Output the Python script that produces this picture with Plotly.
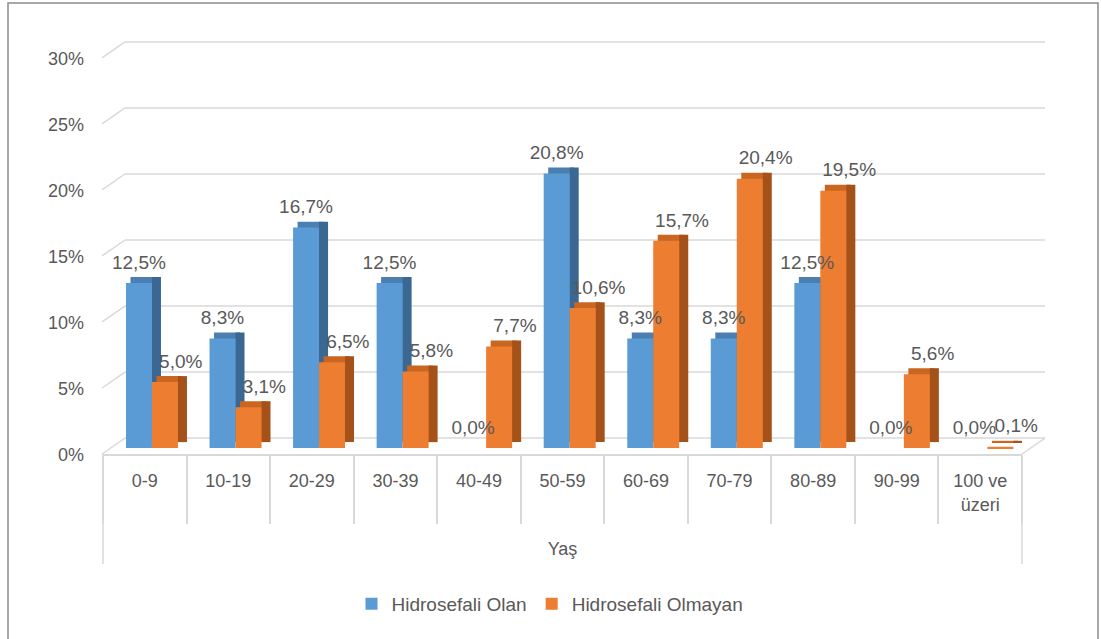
import plotly.graph_objects as go

# ---------------- data ----------------
categories = ["0-9", "10-19", "20-29", "30-39", "40-49", "50-59",
              "60-69", "70-79", "80-89", "90-99", "100 ve<br>üzeri"]
olan = [12.5, 8.3, 16.7, 12.5, 0.0, 20.8, 8.3, 8.3, 12.5, 0.0, 0.0]
olmayan = [5.0, 3.1, 6.5, 5.8, 7.7, 10.6, 15.7, 20.4, 19.5, 5.6, 0.1]
y_ticks = [0, 5, 10, 15, 20, 25, 30]
y_ticktext = ["0%", "5%", "10%", "15%", "20%", "25%", "30%"]
series_names = ["Hidrosefali Olan", "Hidrosefali Olmayan"]

# ---------------- layout geometry ----------------
W_FIG, H_FIG = 1101, 639
L, R, T, B = 103, 79, 40, 185
PW = W_FIG - L - R
PH = H_FIG - T - B
YMIN, YMAX = -0.45, 30.91

DEPTH = 0.45        # 3D depth in % units (vertical)
BACK = 0.76         # back wall offset in % units
LABEL_BASE = 0.55
FRONT_W = 0.311
SIDE_W = 0.108
SHIFT = 0.054
BLUE_OFF = -0.225
ORANGE_OFF = BLUE_OFF + FRONT_W
ORANGE_LABEL_SHIFT = 0.19

TXT = "#595959"
GRID = "#D9D9D9"
FONT = "Liberation Sans"


def pxx(x):
    return (x - L) / PW


def pyp(y):
    return (H_FIG - B - y) / PH


def pyv(v):
    return (v - YMIN) / (YMAX - YMIN)


fig = go.Figure()


def add_series(vals, off, c_front, c_top, c_side, name):
    common = dict(x=categories, y=vals, base=DEPTH, hoverinfo="skip",
                  showlegend=False, marker_line_width=0)
    fig.add_trace(go.Bar(**common, offset=off + SHIFT, width=FRONT_W,
                         marker_color=c_top))
    fig.add_trace(go.Bar(**common, offset=off + FRONT_W, width=SIDE_W,
                         marker_color=c_side))
    fig.add_trace(go.Bar(x=categories, y=vals, offset=off, width=FRONT_W,
                         marker_color=c_front, marker_line_width=0,
                         name=name, showlegend=True, hoverinfo="skip"))


add_series(olan, BLUE_OFF, "#5B9BD5", "#4B7FB2", "#3B6793", series_names[0])
add_series(olmayan, ORANGE_OFF, "#ED7D31", "#C9661F", "#A4511A", series_names[1])

# data labels (invisible bars carrying outside text)
for vals, off in [(olan, BLUE_OFF), (olmayan, ORANGE_OFF + ORANGE_LABEL_SHIFT)]:
    fig.add_trace(go.Bar(x=categories, y=vals, base=LABEL_BASE, offset=off,
                         width=FRONT_W, marker_color="rgba(0,0,0,0)",
                         marker_line_width=0,
                         texttemplate="%{y:.1f}%", textposition="outside",
                         constraintext="none", cliponaxis=False,
                         textfont=dict(size=19, color=TXT, family=FONT),
                         showlegend=False, hoverinfo="skip"))

shapes = []
# back wall gridlines + left wall slants
for v in y_ticks:
    shapes.append(dict(type="line", xref="paper", yref="paper",
                       x0=pxx(125), x1=pxx(1045), y0=pyv(v + BACK), y1=pyv(v + BACK),
                       line=dict(color=GRID, width=1.5), layer="below"))
    shapes.append(dict(type="line", xref="paper", yref="paper",
                       x0=pxx(102), x1=pxx(125), y0=pyv(v + YMIN), y1=pyv(v + BACK),
                       line=dict(color=GRID, width=1.5), layer="below"))
# right floor slant
shapes.append(dict(type="line", xref="paper", yref="paper",
                   x0=1, x1=pxx(1045), y0=0, y1=pyv(BACK),
                   line=dict(color=GRID, width=1.5), layer="below"))
# outer dividers of the category axis
for xp in (0, 1):
    shapes.append(dict(type="line", xref="paper", yref="paper",
                       x0=xp, x1=xp, y0=0, y1=pyp(564),
                       line=dict(color=GRID, width=1.5), layer="below"))
# chart border
shapes.append(dict(type="rect", xref="paper", yref="paper",
                   x0=pxx(8), x1=pxx(1098), y0=pyp(645), y1=pyp(3),
                   line=dict(color="#8C8C8C", width=1.5), layer="below"))

fig.update_layout(
    width=W_FIG, height=H_FIG,
    margin=dict(l=L, r=R, t=T, b=B, autoexpand=False),
    paper_bgcolor="white", plot_bgcolor="white",
    separators=",.",
    barmode="overlay",
    font=dict(family=FONT, size=18, color=TXT),
    shapes=shapes,
    legend=dict(orientation="h", x=pxx(550), xanchor="center",
                y=pyp(604), yanchor="middle",
                font=dict(size=19, color=TXT), itemwidth=30,
                traceorder="normal"),
    xaxis=dict(type="category", range=[-0.5, 10.5], showgrid=False,
               ticks="outside", tickson="boundaries", ticklen=68,
               tickcolor=GRID, tickwidth=1.5,
               showline=True, linecolor=GRID, linewidth=1.5,
               ticklabelstandoff=10,
               tickfont=dict(size=18, color=TXT),
               title=dict(text="Yaş", font=dict(size=18, color=TXT), standoff=29),
               fixedrange=True),
    yaxis=dict(range=[YMIN, YMAX], tickvals=y_ticks, ticktext=y_ticktext,
               showgrid=False, zeroline=False, showline=False,
               ticklabelshift=7, ticklabelstandoff=18,
               tickfont=dict(size=18, color=TXT), fixedrange=True),
)

fig.write_html("out.html")
